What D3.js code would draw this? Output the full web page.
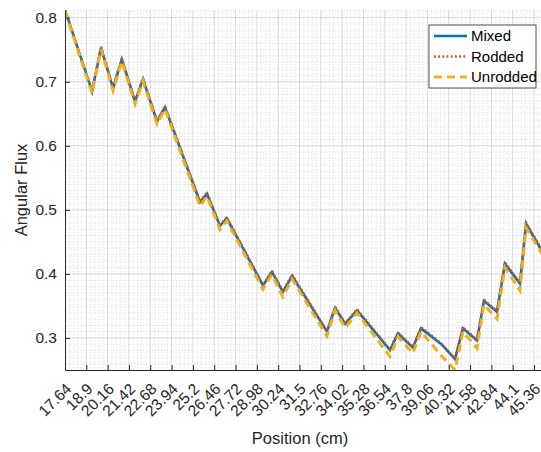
<!DOCTYPE html>
<html>
<head>
<meta charset="utf-8">
<script src="https://cdn.jsdelivr.net/npm/d3@7"></script>
<style>
  body { margin: 0; background: #fff; }
  svg { display: block; font-family: Helvetica, Arial, "Liberation Sans", sans-serif; }
</style>
</head>
<body>
<div id="chart"></div>
<script>
// position along the assembly (cm)
const positions = [17.64, 19.24, 19.77, 20.48, 21.00, 21.78, 22.25, 23.08, 23.55, 25.62, 26.03, 26.80, 27.20,
  29.34, 29.87, 30.52, 31.06, 33.12, 33.60, 34.20, 34.90, 36.85, 37.32, 38.20, 38.68, 39.90, 40.69,
  41.16, 41.99, 42.40, 43.17, 43.64, 44.53, 44.89, 46.00];

const mixedFlux = [0.812, 0.685, 0.753, 0.690, 0.735, 0.669, 0.704, 0.638, 0.660, 0.512, 0.525, 0.475, 0.487,
  0.382, 0.403, 0.372, 0.397, 0.310, 0.347, 0.322, 0.343, 0.281, 0.307, 0.285, 0.315, 0.290, 0.267,
  0.315, 0.296, 0.358, 0.341, 0.416, 0.385, 0.478, 0.428];

const roddedFlux = [0.812, 0.686, 0.755, 0.691, 0.737, 0.670, 0.706, 0.639, 0.662, 0.513, 0.527, 0.476, 0.489,
  0.383, 0.405, 0.373, 0.399, 0.311, 0.349, 0.323, 0.345, 0.282, 0.309, 0.286, 0.317, 0.291, 0.268,
  0.317, 0.297, 0.360, 0.342, 0.418, 0.386, 0.480, 0.430];

const unroddedFlux = [0.810, 0.682, 0.751, 0.686, 0.732, 0.665, 0.701, 0.634, 0.657, 0.506, 0.521, 0.469, 0.483,
  0.376, 0.399, 0.364, 0.392, 0.303, 0.343, 0.316, 0.339, 0.271, 0.302, 0.276, 0.310, 0.272, 0.250,
  0.310, 0.284, 0.352, 0.330, 0.410, 0.374, 0.472, 0.424];

const xTickLabels = ["17.64", "18.9", "20.16", "21.42", "22.68", "23.94", "25.2", "26.46", "27.72", "28.98",
  "30.24", "31.5", "32.76", "34.02", "35.28", "36.54", "37.8", "39.06", "40.32", "41.58", "42.84", "44.1", "45.36"];
const yTickLabels = ["0.3", "0.4", "0.5", "0.6", "0.7", "0.8"];

const seriesNames = ["Mixed", "Rodded", "Unrodded"];

const width = 541, height = 452;
const plotLeft = 65, plotTop = 10, plotBottom = 370;
const ink = "#262626";

const svg = d3.select("#chart")
  .append("svg")
  .attr("width", width)
  .attr("height", height);

const allFlux = mixedFlux.concat(roddedFlux, unroddedFlux);

const x = d3.scaleLinear()
  .domain([17.64, 46.0])
  .range([plotLeft, plotLeft + 28.36 * 16.92]);

const y = d3.scaleLinear()
  .domain(d3.extent(allFlux))
  .range([plotBottom, plotTop]);

svg.append("clipPath").attr("id", "plotClip")
  .append("rect")
  .attr("x", plotLeft).attr("y", plotTop)
  .attr("width", width - plotLeft).attr("height", plotBottom - plotTop);

const xTicks = xTickLabels.map(Number);
const yTicks = yTickLabels.map(Number);

// minor grid (dotted)
const xMinor = d3.range(0, 23 * 5).map(i => 17.64 + i * 0.252).filter((d, i) => i % 5 != 0);
const yMinor = d3.range(25, 82).map(i => i / 100).filter(d => Math.round(d * 100) % 10 != 0);

const grid = svg.append("g").attr("clip-path", "url(#plotClip)");

grid.selectAll(".xminor")
  .data(xMinor)
  .enter()
  .append("line")
  .attr("x1", d => x(d)).attr("x2", d => x(d))
  .attr("y1", plotTop).attr("y2", plotBottom)
  .attr("stroke", "#000").attr("stroke-opacity", 0.12)
  .attr("stroke-dasharray", "1,2");

grid.selectAll(".yminor")
  .data(yMinor)
  .enter()
  .append("line")
  .attr("x1", plotLeft).attr("x2", width)
  .attr("y1", d => y(d)).attr("y2", d => y(d))
  .attr("stroke", "#000").attr("stroke-opacity", 0.12)
  .attr("stroke-dasharray", "1,2");

// major grid
grid.selectAll(".xmajor")
  .data(xTicks)
  .enter()
  .append("line")
  .attr("x1", d => x(d)).attr("x2", d => x(d))
  .attr("y1", plotTop).attr("y2", plotBottom)
  .attr("stroke", "#000").attr("stroke-opacity", 0.15);

grid.selectAll(".ymajor")
  .data(yTicks)
  .enter()
  .append("line")
  .attr("x1", plotLeft).attr("x2", width)
  .attr("y1", d => y(d)).attr("y2", d => y(d))
  .attr("stroke", "#000").attr("stroke-opacity", 0.15);

// lines
const line = d3.line()
  .x((d, i) => x(positions[i]))
  .y(d => y(d));

const styles = [
  { data: mixedFlux, color: "#0072BD", dash: null, w: 2.6 },
  { data: roddedFlux, color: "#D95319", dash: "1.8,2.4", w: 2.4 },
  { data: unroddedFlux, color: "#EDB120", dash: "8,5", w: 3 }
];

const plot = svg.append("g").attr("clip-path", "url(#plotClip)");
styles.forEach(s => {
  plot.append("path")
    .attr("d", line(s.data))
    .attr("fill", "none")
    .attr("stroke", s.color)
    .attr("stroke-width", s.w)
    .attr("stroke-dasharray", s.dash);
});

// axes
const xAxis = svg.append("g")
  .attr("transform", "translate(0," + plotBottom + ")")
  .call(d3.axisBottom(x).tickValues(xTicks).tickSize(-5).tickSizeOuter(0).tickFormat((d, i) => xTickLabels[i]));

xAxis.select(".domain").attr("stroke", ink);
xAxis.selectAll(".tick line").attr("stroke", ink);
xAxis.selectAll(".tick text")
  .attr("fill", ink)
  .attr("font-size", 15.5)
  .attr("text-anchor", "end")
  .attr("dy", "0.35em")
  .attr("transform", "translate(3,16) rotate(-45)")
  .attr("x", 0).attr("y", 0);

const yAxis = svg.append("g")
  .attr("transform", "translate(" + plotLeft + ",0)")
  .call(d3.axisLeft(y).tickValues(yTicks).tickSize(-5).tickSizeOuter(0).tickPadding(8).tickFormat((d, i) => yTickLabels[i]));

yAxis.select(".domain").attr("stroke", ink);
yAxis.selectAll(".tick line").attr("stroke", ink);
yAxis.selectAll(".tick text").attr("fill", ink).attr("font-size", 15.5);

// axis titles
svg.append("text")
  .text("Position (cm)")
  .attr("x", 300).attr("y", 444)
  .attr("text-anchor", "middle")
  .attr("font-size", 16.5)
  .attr("fill", ink);

svg.append("text")
  .text("Angular Flux")
  .attr("transform", "translate(27,190) rotate(-90)")
  .attr("text-anchor", "middle")
  .attr("font-size", 16.5)
  .attr("fill", ink);

// legend
const legend = svg.append("g").attr("transform", "translate(429,25)");
legend.append("rect")
  .attr("width", 107).attr("height", 63)
  .attr("fill", "#fff")
  .attr("stroke", ink).attr("stroke-width", 0.8);

styles.forEach((s, i) => {
  const ly = 11 + i * 20.5;
  legend.append("line")
    .attr("x1", 5).attr("x2", 38)
    .attr("y1", ly).attr("y2", ly)
    .attr("stroke", s.color)
    .attr("stroke-width", s.w)
    .attr("stroke-dasharray", s.dash);
  legend.append("text")
    .text(seriesNames[i])
    .attr("x", 42).attr("y", ly)
    .attr("dy", "0.35em")
    .attr("font-size", 15)
    .attr("fill", "#000");
});
</script>
</body>
</html>
